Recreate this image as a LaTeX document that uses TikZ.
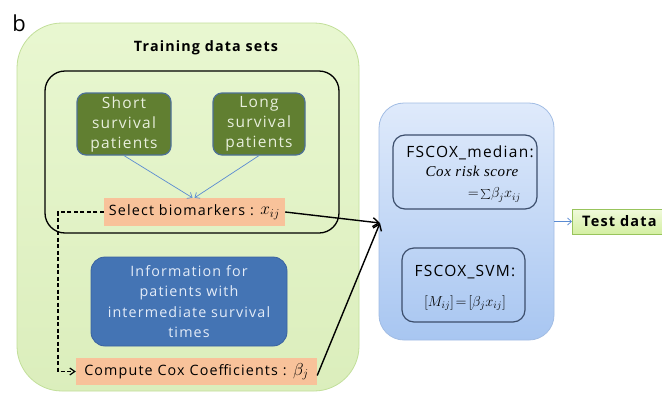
\documentclass[tikz,border=0pt]{standalone}
\usepackage{fontspec}
\setmainfont{Open Sans}[LetterSpace=8]
\newfontfamily\serifface{Liberation Serif}[LetterSpace=4]
\usetikzlibrary{arrows.meta}
\definecolor{trainfill}{HTML}{E3F5C5}
\definecolor{trainedge}{HTML}{C2DF9A}
\definecolor{olivefill}{HTML}{617F31}
\definecolor{oliveedge}{HTML}{4E7197}
\definecolor{olivetext}{HTML}{E8EFDC}
\definecolor{peach}{HTML}{F8C29A}
\definecolor{infofill}{HTML}{4474B4}
\definecolor{infoedge}{HTML}{3A62A0}
\definecolor{infotext}{HTML}{E4ECF8}
\definecolor{modeltop}{HTML}{DFEAFB}
\definecolor{modelbottom}{HTML}{A8C6F1}
\definecolor{modeledge}{HTML}{A2BDE4}
\definecolor{inneredge}{HTML}{3C4E6C}
\definecolor{testtop}{HTML}{F0FADC}
\definecolor{testbottom}{HTML}{D4EFA2}
\definecolor{testedge}{HTML}{98C45C}
\definecolor{linkblue}{HTML}{5A8BD2}
\tikzset{
  outerbox/.style={draw=trainedge, line width=0.8pt, top color=trainfill!80!white, bottom color=trainfill!90!olivefill!60!trainfill, rounded corners=45pt, inner sep=0pt},
  groupbox/.style={draw=black, line width=1.3pt, rounded corners=20pt, inner sep=0pt},
  olivebox/.style={draw=oliveedge, line width=1.2pt, fill=olivefill, rounded corners=9pt, text=olivetext, align=center, inner sep=0pt, font=\fontsize{15.5}{20}\selectfont},
  peachbox/.style={fill=peach, inner sep=0pt, font=\fontsize{14.3}{18}\selectfont},
  infobox/.style={draw=infoedge, line width=0.8pt, fill=infofill, rounded corners=14pt, text=infotext, align=center, inner sep=0pt, font=\fontsize{14.3}{20.5}\selectfont},
  modelbox/.style={draw=modeledge, line width=0.8pt, top color=modeltop, bottom color=modelbottom, rounded corners=25pt, inner sep=0pt},
  innerbox/.style={draw=inneredge, line width=1.2pt, rounded corners=12pt, inner sep=0pt},
  testbox/.style={draw=testedge, line width=0.8pt, top color=testtop, bottom color=testbottom, inner sep=0pt, font=\bfseries\fontsize{14.5}{18}\selectfont},
  txt/.style={inner sep=0pt, font=\fontsize{15.5}{18}\selectfont},
  thickarrow/.style={draw=black, line width=1.4pt, -{Straight Barb[length=6pt,width=9pt]}},
  dasharrow/.style={draw=black, line width=1.2pt, dash pattern=on 4pt off 2.5pt, -{Straight Barb[length=5pt,width=7pt]}},
  bluearrow/.style={draw=linkblue, line width=0.7pt, -{Straight Barb[length=4pt,width=7pt]}}
}
\begin{document}
\begin{tikzpicture}[x=1pt,y=-1pt]
\useasboundingbox (0,0) rectangle (662,394);
\fill[white] (0,0) rectangle (662,394);

% panel letter
\node[inner sep=0pt, font=\fontsize{22}{22}\selectfont] (panel) at (19,23) {b};

% training side
\node[outerbox, minimum width=342pt, minimum height=368pt] (train) at (188,207) {};
\node[inner sep=0pt, font=\bfseries\fontsize{14.3}{18}\selectfont] (title) at (206,48) {Training data sets};
\node[groupbox, minimum width=294pt, minimum height=162pt] (group) at (192,152) {};

\node[olivebox, minimum width=94pt, minimum height=62pt] (short) at (124,124) {Short\\survival\\patients};
\node[olivebox, minimum width=92pt, minimum height=62pt] (long) at (259,124) {Long\\survival\\patients};

\node[peachbox, minimum width=181pt, minimum height=28pt] (select) at (194.5,212)
  {Select biomarkers : \raisebox{1pt}{\fontsize{17}{17}\selectfont$x_{ij}$}};

\node[infobox, minimum width=196pt, minimum height=89pt] (info) at (189,301.5)
  {Information for\\patients with\\intermediate survival\\times};

\node[peachbox, minimum width=241pt, minimum height=27pt] (compute) at (196.5,371.5)
  {Compute Cox Coefficients : \raisebox{0pt}{\fontsize{18}{18}\selectfont$\beta_j$}};

% model side
\node[modelbox, minimum width=175pt, minimum height=237pt] (model) at (466.5,221.5) {};
\node[innerbox, minimum width=144pt, minimum height=74pt] (median) at (465,172) {};
\node[txt] (mediantitle) at (470,153) {FSCOX\_median:};
\node[inner sep=0pt, font=\serifface\itshape\fontsize{15}{18}\selectfont] (riskscore) at (472,171) {Cox risk score};
\node[inner sep=0pt, anchor=east, font=\fontsize{14}{18}\selectfont] (riskeq) at (521,195) {$=\!\sum\!\beta_j x_{ij}$};

\node[innerbox, minimum width=123pt, minimum height=74pt] (svm) at (463.5,285) {};
\node[txt] (svmtitle) at (465,272) {FSCOX\_SVM:};
\node[inner sep=0pt, font=\fontsize{14}{18}\selectfont] (svmeq) at (465,303) {$[M_{ij}]\!=\![\beta_j x_{ij}]$};

\node[testbox, minimum width=92pt, minimum height=25pt, anchor=west] (test) at (572,221.5) {\hspace*{6pt}Test data\hspace*{4pt}};

% connectors
\coordinate (hit) at (380,223);
\coordinate (bend) at (58,212);
\draw[bluearrow] (short.south) -- ([xshift=-2pt]select.north);
\draw[bluearrow] (long.south) -- ([xshift=0pt]select.north);
\draw[dasharrow] (select.west) -- (bend) |- (compute.west);
\draw[thickarrow] (select.east) -- (hit);
\draw[thickarrow] ([yshift=-4pt]compute.east) -- (hit);
\draw[bluearrow] (model.east) -- (test.west);
\end{tikzpicture}
\end{document}
